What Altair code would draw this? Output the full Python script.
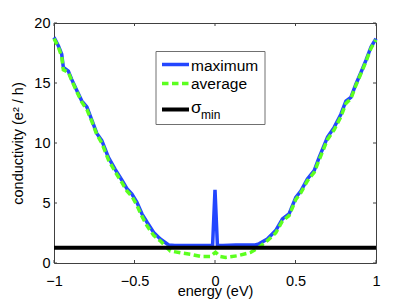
import altair as alt
import pandas as pd

# ---- data ----
energy_max = [-1.0, -0.973, -0.952, -0.942, -0.911, -0.89, -0.859, -0.827, -0.796, -0.765,
              -0.734, -0.703, -0.662, -0.62, -0.578, -0.547, -0.516, -0.485, -0.454, -0.422,
              -0.381, -0.34, -0.288, -0.25, -0.2, -0.13, -0.05, -0.015, 0.0, 0.015,
              0.05, 0.13, 0.2, 0.25, 0.273, 0.325, 0.377, 0.419, 0.46, 0.502,
              0.533, 0.574, 0.616, 0.647, 0.699, 0.74, 0.782, 0.813, 0.844, 0.875,
              0.907, 0.938, 0.969, 1.0]
cond_max = [18.8, 18.1, 17.4, 16.3, 16.0, 15.3, 14.4, 13.5, 13.0, 11.9,
            10.8, 10.2, 8.8, 7.8, 6.9, 6.2, 5.75, 5.05, 4.1, 3.4,
            2.55, 2.0, 1.5, 1.45, 1.45, 1.45, 1.45, 1.45, 6.1, 1.45,
            1.45, 1.5, 1.5, 1.5, 1.6, 2.0, 2.7, 3.67, 4.1, 5.47,
            6.0, 7.0, 7.7, 8.8, 10.5, 11.3, 12.4, 13.5, 13.8, 14.9,
            15.9, 16.9, 18.0, 18.7]

energy_avg = [-1.0, -0.973, -0.952, -0.942, -0.911, -0.89, -0.859, -0.827, -0.796, -0.765,
              -0.734, -0.703, -0.662, -0.62, -0.578, -0.547, -0.516, -0.485, -0.454, -0.422,
              -0.381, -0.34, -0.30, -0.277, -0.215, -0.15, -0.09, -0.03, 0.003, 0.03,
              0.065, 0.138, 0.221, 0.273, 0.325, 0.377, 0.419, 0.46, 0.502,
              0.533, 0.574, 0.616, 0.647, 0.699, 0.74, 0.782, 0.813, 0.844, 0.875,
              0.907, 0.938, 0.969, 1.0]
cond_avg = [18.7, 18.0, 17.2, 16.1, 15.9, 15.2, 14.3, 13.4, 12.8, 11.8,
            10.7, 10.0, 8.6, 7.6, 6.7, 6.0, 5.55, 4.8, 3.9, 3.1,
            2.3, 1.85, 1.3, 1.0, 0.85, 0.72, 0.55, 0.55, 0.9, 0.55,
            0.47, 0.6, 0.88, 1.3, 1.86, 2.5, 3.5, 3.95, 5.3,
            5.85, 6.85, 7.55, 8.6, 10.3, 11.1, 12.2, 13.3, 13.7, 14.8,
            15.8, 16.8, 17.9, 18.6]

sigma_min = 1.27
x_ticks = [-1, -0.5, 0, 0.5, 1]
y_ticks = [0, 5, 10, 15, 20]
labels = ["maximum", "average", "σ", "min"]

BLUE = "#2346ff"
GREEN = "#5cff1f"
AXIS = "#404040"
FONT = "Liberation Sans"
W, H = 322, 240

xs = alt.Scale(domain=[-1, 1], nice=False)
ys = alt.Scale(domain=[0, 20], nice=False)

df_max = pd.DataFrame({"energy": energy_max, "cond": cond_max})
df_avg = pd.DataFrame({"energy": energy_avg, "cond": cond_avg})
df_sig = pd.DataFrame({"energy": [-1, 1], "cond": [sigma_min, sigma_min]})
df_xt = pd.DataFrame({"t": x_ticks})
df_yt = pd.DataFrame({"t": y_ticks})

x_axis = alt.Axis(values=x_ticks, format="~g", ticks=False, domain=False, grid=False,
                  labelFontSize=14.5, labelColor="black", labelFont=FONT, labelPadding=11,
                  labelFlush=False, title="energy (eV)", titleFontSize=14.5,
                  titleFontWeight="normal", titleFont=FONT, titleColor="black",
                  titleBaseline="alphabetic", titleY=32)
y_axis = alt.Axis(values=y_ticks, format="~g", ticks=False, domain=False, grid=False,
                  labelFontSize=14.5, labelColor="black", labelFont=FONT, labelPadding=4,
                  labelFlush=False, title="conductivity (e² / h)", titleFontSize=14.5,
                  titleFontWeight="normal", titleFont=FONT, titleColor="black", titlePadding=8)

line_max = alt.Chart(df_max).mark_line(color=BLUE, strokeWidth=3.5).encode(
    x=alt.X("energy:Q", scale=xs, axis=x_axis),
    y=alt.Y("cond:Q", scale=ys, axis=y_axis),
)
line_avg = alt.Chart(df_avg).mark_line(color=GREEN, strokeWidth=3.5, strokeDash=[6.5, 3.5]).encode(
    x=alt.X("energy:Q", scale=xs), y=alt.Y("cond:Q", scale=ys))
line_sig = alt.Chart(df_sig).mark_line(color="black", strokeWidth=4).encode(
    x=alt.X("energy:Q", scale=xs), y=alt.Y("cond:Q", scale=ys))

tk = dict(color=AXIS, strokeWidth=1)
xt_bot = alt.Chart(df_xt).mark_rule(**tk).encode(x=alt.X("t:Q", scale=xs), y=alt.value(H), y2=alt.value(H - 3))
xt_top = alt.Chart(df_xt).mark_rule(**tk).encode(x=alt.X("t:Q", scale=xs), y=alt.value(0), y2=alt.value(3))
yt_l = alt.Chart(df_yt).mark_rule(**tk).encode(y=alt.Y("t:Q", scale=ys), x=alt.value(0), x2=alt.value(3))
yt_r = alt.Chart(df_yt).mark_rule(**tk).encode(y=alt.Y("t:Q", scale=ys), x=alt.value(W), x2=alt.value(W - 3))

one = pd.DataFrame({"a": [0]})
leg_box = alt.Chart(one).mark_rect(fill="white", stroke="#707070", strokeWidth=1).encode(
    x=alt.value(102), x2=alt.value(211), y=alt.value(28.5), y2=alt.value(101.5))
leg_l1 = alt.Chart(one).mark_rule(color=BLUE, strokeWidth=3.5).encode(
    x=alt.value(108), x2=alt.value(135), y=alt.value(41.5))
leg_l2 = alt.Chart(one).mark_rule(color=GREEN, strokeWidth=3.5, strokeDash=[6.5, 3.5]).encode(
    x=alt.value(108), x2=alt.value(135), y=alt.value(60.5))
leg_l3 = alt.Chart(one).mark_rule(color="black", strokeWidth=4).encode(
    x=alt.value(108), x2=alt.value(135), y=alt.value(86.5))

def txt(label, x, y, size):
    return alt.Chart(pd.DataFrame({"label": [label]})).mark_text(
        align="left", baseline="alphabetic", fontSize=size, font=FONT, color="black").encode(
        x=alt.value(x), y=alt.value(y), text="label:N")

leg_t1 = txt(labels[0], 137, 48, 15.5)
leg_t2 = txt(labels[1], 137, 66, 15.5)
leg_t3 = txt(labels[2], 137, 90, 17)
leg_t4 = txt(labels[3], 147, 96, 12)

chart = alt.layer(
    line_max, line_avg, line_sig, xt_bot, xt_top, yt_l, yt_r,
    leg_box, leg_l1, leg_l2, leg_l3, leg_t1, leg_t2, leg_t3, leg_t4,
).properties(
    width=W, height=H,
    autosize=alt.AutoSizeParams(type="none"),
    padding={"left": 46, "top": 15, "right": 31, "bottom": 38},
    background="white",
).configure_view(stroke=AXIS, strokeWidth=1)

chart.save("out.html", embed_options={"renderer": "svg", "actions": False})
